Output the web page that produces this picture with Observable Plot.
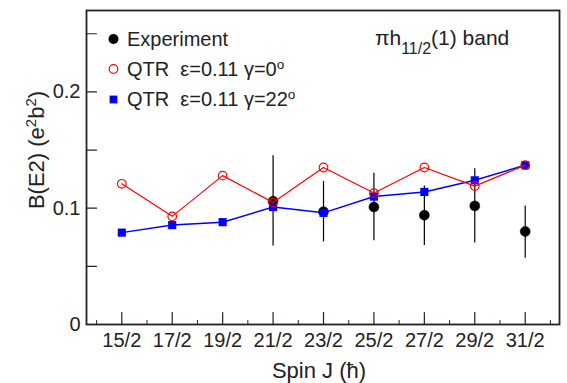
<!DOCTYPE html>
<html>
<head>
<meta charset="utf-8">
<script src="https://cdn.jsdelivr.net/npm/d3@7"></script>
<script src="https://cdn.jsdelivr.net/npm/@observablehq/plot@0.6"></script>
<style>
  html, body { margin: 0; padding: 0; background: #fff; }
  #chart { position: relative; width: 567px; height: 383px; }
</style>
</head>
<body>
<div id="chart"></div>
<script>
// ---- data ----
const spinLabels = ["15/2", "17/2", "19/2", "21/2", "23/2", "25/2", "27/2", "29/2", "31/2"];
const spinValues = [7.5, 8.5, 9.5, 10.5, 11.5, 12.5, 13.5, 14.5, 15.5];
const qtrGamma0  = [0.121, 0.093, 0.128, 0.105, 0.135, 0.113, 0.135, 0.119, 0.137];
const qtrGamma22 = [0.079, 0.0855, 0.088, 0.101, 0.096, 0.110, 0.114, 0.124, 0.137];
const expSpins   = [10.5, 11.5, 12.5, 13.5, 14.5, 15.5];
const expValues  = [0.106, 0.097, 0.101, 0.094, 0.102, 0.080];
const expLow     = [0.0675, 0.071, 0.072, 0.068, 0.070, 0.057];
const expHigh    = [0.145, 0.123, 0.130, 0.119, 0.134, 0.102];
const yTickValues = [0, 0.1, 0.2];
const yMinorTicks = [0, 0.05, 0.1, 0.15, 0.2, 0.25];
const xMinorTicks = [7, 8, 9, 10, 11, 12, 13, 14, 15, 16];

const qtr0 = spinValues.map((s, i) => ({spin: s, v: qtrGamma0[i]}));
const qtr22 = spinValues.map((s, i) => ({spin: s, v: qtrGamma22[i]}));
const exp = expSpins.map((s, i) => ({spin: s, v: expValues[i], lo: expLow[i], hi: expHigh[i]}));

const FONT = "'Liberation Sans', Arial, Helvetica, sans-serif";
const INK = "#222";
const FS = 20;
const tickShape = {draw(ctx, l) { ctx.moveTo(0, 0); ctx.lineTo(0, -l); }};

const plot = Plot.plot({
  width: 567,
  height: 383,
  marginLeft: 86,
  marginRight: 8,
  marginTop: 10,
  marginBottom: 59,
  style: {fontFamily: FONT, fontSize: FS + "px", color: INK, background: "white"},
  x: {type: "linear", domain: [6.8, 16.18]},
  y: {domain: [0, 0.27]},
  marks: [
    Plot.axisX(spinValues, {
      tickSize: 0, tickPadding: 8, fontSize: FS, label: null,
      tickFormat: d => spinLabels[spinValues.indexOf(d)]
    }),
    Plot.axisY(yTickValues, {
      tickSize: 0, tickPadding: 6, fontSize: FS, label: null,
      tickFormat: d => d === 0 ? "0" : d.toFixed(1)
    }),
    // inward ticks
    Plot.vector(spinValues, {x: d => d, frameAnchor: "bottom", length: 12, rotate: 0, anchor: "start", shape: tickShape, stroke: INK, strokeWidth: 1.2}),
    Plot.vector(xMinorTicks, {x: d => d, frameAnchor: "bottom", length: 4, rotate: 0, anchor: "start", shape: tickShape, stroke: INK, strokeWidth: 1}),
    Plot.vector(yMinorTicks, {y: d => d, frameAnchor: "left", length: 10, rotate: 90, anchor: "start", shape: tickShape, stroke: INK, strokeWidth: 1.2}),
    // experiment
    Plot.ruleX(exp, {x: "spin", y1: "lo", y2: "hi", stroke: "black", strokeWidth: 1.2}),
    Plot.dot(exp, {x: "spin", y: "v", r: 5, fill: "black", stroke: "black", strokeWidth: 0.5}),
    // QTR gamma = 22
    Plot.line(qtr22, {x: "spin", y: "v", stroke: "#0000ff", strokeWidth: 1.5}),
    Plot.dot(qtr22, {x: "spin", y: "v", symbol: "square", r: 4.6, fill: "#0000ff"}),
    // QTR gamma = 0
    Plot.line(qtr0, {x: "spin", y: "v", stroke: "#ff0000", strokeWidth: 1.2}),
    Plot.dot(qtr0, {x: "spin", y: "v", r: 4.3, fill: "none", stroke: "#ff0000", strokeWidth: 1.2}),
    // legend markers
    Plot.dot([0], {frameAnchor: "top-left", dx: 27, dy: 28.5, r: 5, fill: "black"}),
    Plot.dot([0], {frameAnchor: "top-left", dx: 27, dy: 58.5, r: 4.3, fill: "none", stroke: "#ff0000", strokeWidth: 1.2}),
    Plot.dot([0], {frameAnchor: "top-left", dx: 27, dy: 89, symbol: "square", r: 4.4, fill: "#0000ff"}),
    Plot.frame({stroke: INK, strokeWidth: 1.8})
  ]
});

document.getElementById("chart").appendChild(plot);

// ---- text with super/subscripts ----
const svg = d3.select(plot);
function rich(x, y, parts, opts = {}) {
  const size = opts.size || FS;
  const scriptScale = opts.scriptScale || 0.68;
  const t = svg.append("text")
    .attr("x", x).attr("y", y)
    .attr("fill", INK)
    .attr("font-family", FONT)
    .attr("font-size", size)
    .attr("text-anchor", opts.anchor || "start");
  if (opts.transform) t.attr("transform", opts.transform).attr("x", 0).attr("y", 0);
  parts.forEach(p => {
    const s = t.append("tspan").text(p.t);
    if (p.sup) s.attr("font-size", size * scriptScale).attr("baseline-shift", "super");
    if (p.sub) s.attr("font-size", size * scriptScale).attr("baseline-shift", "sub");
  });
  return t;
}

// legend texts
rich(127, 46, [{t: "Experiment"}]);
rich(127, 76, [{t: "QTR\u00a0\u00a0\u03b5=0.11 \u03b3=0"}, {t: "o", sup: true}]);
rich(127, 106, [{t: "QTR\u00a0\u00a0\u03b5=0.11 \u03b3=22"}, {t: "o", sup: true}]);

// band label
rich(375, 45, [{t: "\u03c0h"}, {t: "11/2", sub: true}, {t: "(1) band"}], {size: 21, scriptScale: 0.76});

// axis titles
rich(0, 0, [{t: "Spin J (\u0127)"}], {size: 22, anchor: "middle", transform: "translate(319,378)"});
rich(0, 0, [{t: "B(E2) (e"}, {t: "2", sup: true}, {t: "b"}, {t: "2", sup: true}, {t: ")"}],
     {size: 22, anchor: "middle", transform: "translate(44,150) rotate(-90)"});
</script>
</body>
</html>
